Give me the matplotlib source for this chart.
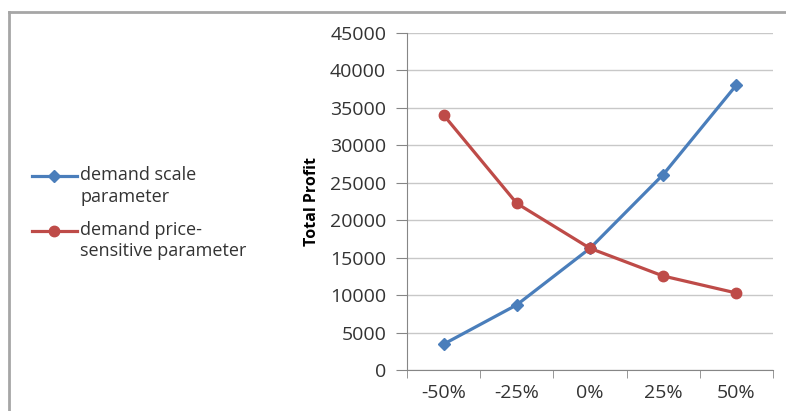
import matplotlib
matplotlib.use("Agg")
import matplotlib.pyplot as plt
from matplotlib.lines import Line2D

categories = ["-50%", "-25%", "0%", "25%", "50%"]
scale_param = [3450, 8700, 16250, 26100, 38050]
price_param = [34050, 22250, 16250, 12550, 10280]
yticks = [0, 5000, 10000, 15000, 20000, 25000, 30000, 35000, 40000, 45000]
legend_labels = ["demand scale\nparameter", "demand price-\nsensitive parameter"]

W, H = 786, 411
fig = plt.figure(figsize=(W / 100, H / 100), dpi=100)
plt.rcParams['font.family'] = ['Open Sans', 'DejaVu Sans']

# outer frame lines (top & left)
fig.add_artist(Line2D([9 / W, 1], [1 - 12 / H, 1 - 12 / H], color="#a6a6a6", lw=2, transform=fig.transFigure))
fig.add_artist(Line2D([9 / W, 9 / W], [0, 1 - 12 / H], color="#a6a6a6", lw=2, transform=fig.transFigure))

left, right = 407 / W, 773 / W
bottom, top = 1 - 370 / H, 1 - 33 / H
ax = fig.add_axes([left, bottom, right - left, top - bottom])

x = list(range(len(categories)))
blue = "#4a7ebb"
red = "#be4b48"
styles = [dict(color=blue, marker="D", ms=6), dict(color=red, marker="o", ms=7.5)]
for vals, st in zip([scale_param, price_param], styles):
    ax.plot(x, vals, color=st["color"], lw=2.3, marker=st["marker"], ms=st["ms"],
            mfc=st["color"], mec=st["color"], zorder=3)

ax.set_xlim(-0.5, len(categories) - 0.5)
ax.set_ylim(0, 45000)
ax.set_yticks(yticks)
ax.set_yticklabels([str(v) for v in yticks], fontsize=14, color="#333333")
ax.set_xticks(x)
ax.set_xticklabels(categories, fontsize=14, color="#333333")
ax.set_xticks([i - 0.5 for i in range(len(categories) + 1)], minor=True)
ax.tick_params(axis="x", which="major", length=0, pad=10)
ax.tick_params(axis="x", which="minor", length=6, color="#868686", direction="out")
ax.tick_params(axis="y", length=8, color="#868686", direction="out", pad=7)
ax.grid(axis="y", color="#c8c8c8", lw=1)
ax.set_axisbelow(True)
for s in ["top", "right"]:
    ax.spines[s].set_visible(False)
ax.spines["left"].set_color("#868686")
ax.spines["bottom"].set_color("#868686")

ax.set_ylabel("Total Profit", fontsize=11.5, fontweight="bold", labelpad=7)

# legend (handle aligned with first text line, as in the reference)
leg_y = [176, 231]
for lab, st, yy in zip(legend_labels, styles, leg_y):
    fy = 1 - yy / H
    fig.add_artist(Line2D([32 / W, 77 / W], [fy, fy], color=st["color"], lw=2.3,
                          transform=fig.transFigure))
    fig.add_artist(Line2D([54.5 / W], [fy], color=st["color"], marker=st["marker"],
                          ms=st["ms"], mfc=st["color"], mec=st["color"], transform=fig.transFigure))
    fig.text(80 / W, fy + 10 / H, lab, fontsize=13, color="#333333", va="top", ha="left",
             linespacing=1.25)

fig.savefig("out.png", dpi=100)
